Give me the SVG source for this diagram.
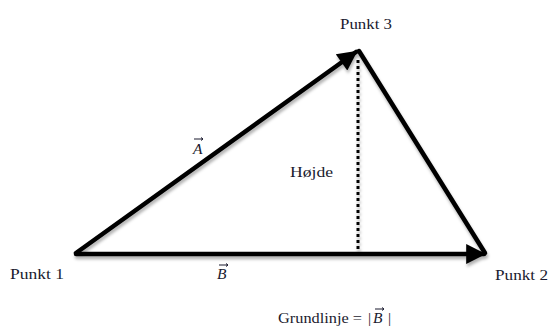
<svg xmlns="http://www.w3.org/2000/svg" width="551" height="329" viewBox="0 0 551 329">
<defs>
<style>
.lbl{font-family:"Liberation Serif","DejaVu Serif",serif;font-size:15.5px;fill:#1a1a2e}
.it{font-style:italic}
.ln{stroke:#000;stroke-width:4.5;fill:none;stroke-linecap:round}
.dot{stroke:#000;stroke-width:3;stroke-dasharray:3,3;fill:none}
.vec{stroke:#1a1a2e;stroke-width:1;fill:none}
</style>
<filter id="sh" x="-10%" y="-10%" width="120%" height="130%">
<feDropShadow dx="1" dy="3" stdDeviation="1.5" flood-color="#000" flood-opacity="0.3"/>
</filter>
<marker id="ah" viewBox="0 0 10 10" refX="9" refY="5" markerWidth="5" markerHeight="4.4" orient="auto" markerUnits="strokeWidth">
<path d="M0,0 L10,5 L0,10 Z" fill="#000"/>
</marker>
</defs>
<g id="connectors" filter="url(#sh)">
<line class="ln" x1="76" y1="253" x2="356" y2="52" marker-end="url(#ah)"/>
<line class="ln" x1="359" y1="51" x2="485" y2="253"/>
<line class="ln" x1="76" y1="254" x2="484" y2="254" marker-end="url(#ah)"/>
<line class="dot" x1="358" y1="60" x2="358" y2="252"/>
</g>
<g id="punkt1"><text class="lbl" x="10" y="279" textLength="54" lengthAdjust="spacingAndGlyphs">Punkt 1</text></g>
<g id="punkt2"><text class="lbl" x="495" y="280" textLength="53" lengthAdjust="spacingAndGlyphs">Punkt 2</text></g>
<g id="punkt3"><text class="lbl" x="340" y="29" textLength="52" lengthAdjust="spacingAndGlyphs">Punkt 3</text></g>
<g id="hojde"><text class="lbl" x="290" y="177" textLength="43" lengthAdjust="spacingAndGlyphs">Højde</text></g>
<g id="vecA"><text class="lbl it" x="193" y="154">A</text><path class="vec" d="M194,139 H203 M201,137.5 L203,139 L201,140.5"/></g>
<g id="vecB"><text class="lbl it" x="217" y="279">B</text><path class="vec" d="M219,265 H228 M226,263.5 L228,265 L226,266.5"/></g>
<g id="grundlinje"><text class="lbl" x="278" y="323" textLength="84" lengthAdjust="spacingAndGlyphs">Grundlinje =</text><text class="lbl" x="368" y="323">|</text><text class="lbl it" x="373" y="323">B</text><text class="lbl" x="388" y="323">|</text><path class="vec" d="M375,309 H384 M382,307.5 L384,309 L382,310.5"/></g>
</svg>
